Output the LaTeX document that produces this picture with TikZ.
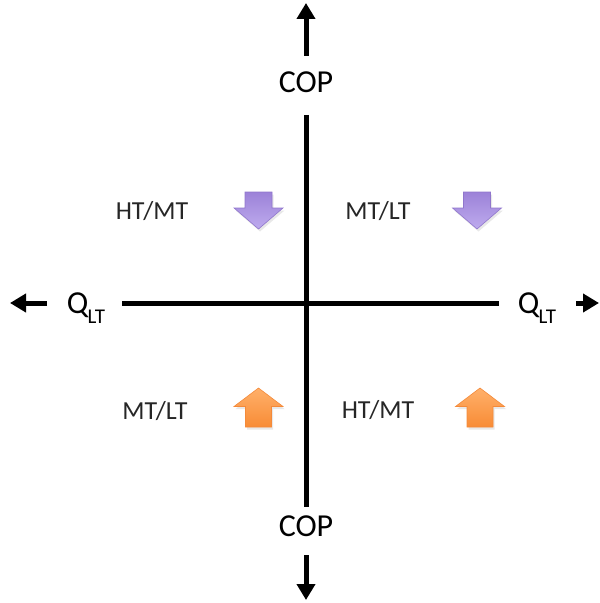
\documentclass[tikz,border=0pt]{standalone}
\usepackage{fontspec}
\setmainfont{Carlito}
\usetikzlibrary{arrows.meta,shadows}
\definecolor{purpT}{HTML}{9C82D8}
\definecolor{purpB}{HTML}{BEABEE}
\definecolor{purpE}{HTML}{9076CC}
\definecolor{oranT}{HTML}{FFB06A}
\definecolor{oranB}{HTML}{F88C36}
\definecolor{oranE}{HTML}{F48A3A}
\begin{document}
\begin{tikzpicture}[x=1bp,y=-1bp,
  axis/.style={line width=5bp},
  axisarrow/.style={line width=5bp,-{Triangle[width=18bp,length=16bp]}},
  big/.style={font=\fontsize{32bp}{36bp}\selectfont, inner sep=0pt, anchor=base},
  lab/.style={font=\fontsize{26bp}{30bp}\selectfont, inner sep=0pt, anchor=base, text=black!85},
  blk/.style={line width=0.6bp, drop shadow={opacity=0.18, shadow xshift=1.5bp, shadow yshift=-2.5bp}},
  downblk/.pic={\path[blk, top color=purpT, bottom color=purpB, draw=purpE]
     (-13.5,-18.5) -- (13.5,-18.5) -- (13.5,-2.5) -- (24.5,-2.5) -- (0,18.5)
     -- (-24.5,-2.5) -- (-13.5,-2.5) -- cycle;},
  upblk/.pic={\path[blk, top color=oranT, bottom color=oranB, draw=oranE]
     (-13,19.5) -- (13,19.5) -- (13,-1) -- (24.5,-1) -- (0,-19.5)
     -- (-24.5,-1) -- (-13,-1) -- cycle;}
]
\useasboundingbox (0,0) rectangle (600,603);

% axes
\coordinate (vTop) at (306,115);
\coordinate (vBot) at (306,507);
\coordinate (hLef) at (122,303);
\coordinate (hRig) at (499,303);
\draw[axis] (vTop) -- (vBot);
\draw[axis] (hLef) -- (hRig);

% arrows at the ends
\coordinate (topS) at (306,56);  \coordinate (topT) at (306,3);
\coordinate (botS) at (306,555); \coordinate (botT) at (306,600);
\coordinate (lefS) at (47,303);  \coordinate (lefT) at (10,303);
\coordinate (rigS) at (576,303); \coordinate (rigT) at (599,303);
\draw[axisarrow] (topS) -- (topT);
\draw[axisarrow] (botS) -- (botT);
\draw[axisarrow] (lefS) -- (lefT);
\draw[axisarrow] (rigS) -- (rigT);

% axis labels
\node[big] (copT) at (306,93) {COP};
\node[big] (copB) at (306,536) {COP};
\node[big] (qL) at (86,313) {Q\kern-1bp\raisebox{-10bp}{\fontsize{21bp}{24bp}\selectfont LT}};
\node[big] (qR) at (537,313) {Q\kern-1bp\raisebox{-10bp}{\fontsize{21bp}{24bp}\selectfont LT}};

% quadrant labels
\node[lab] (l1) at (152,219) {HT/MT};
\node[lab] (l2) at (378,219) {MT/LT};
\node[lab] (l3) at (155,419) {MT/LT};
\node[lab] (l4) at (378,418) {HT/MT};

% block arrows
\pic at (258.5,210.5) {downblk};
\pic at (477,210.5) {downblk};
\pic at (258.5,407.5) {upblk};
\pic at (480,407.5) {upblk};
\end{tikzpicture}
\end{document}
